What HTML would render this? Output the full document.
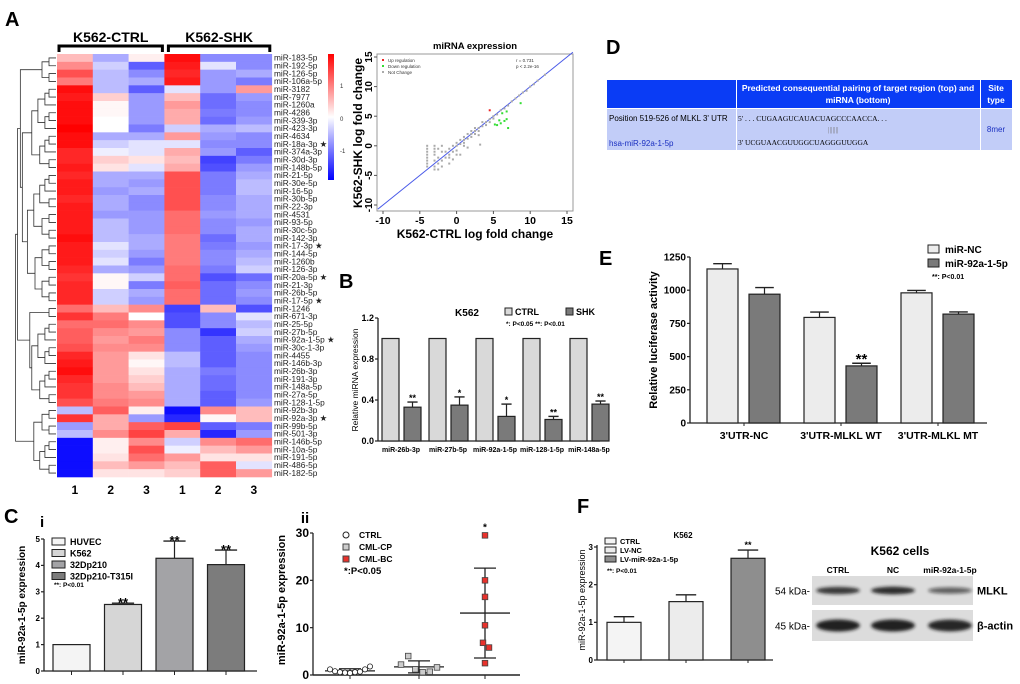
<!DOCTYPE html>
<html><head><meta charset="utf-8"><style>
html,body{margin:0;padding:0;background:#fff}
svg{display:block;font-family:"Liberation Sans",Arial,sans-serif}
</style></head><body>
<svg id="fig" width="1020" height="684" viewBox="0 0 1020 684" xmlns="http://www.w3.org/2000/svg">
<g font-weight="bold" font-size="20" fill="#000">
<text x="5" y="26">A</text>
<text x="339" y="288">B</text>
<text x="4" y="523">C</text>
<text x="606" y="54">D</text>
<text x="599" y="265">E</text>
<text x="577" y="513">F</text>
</g>
<g id="heat"></g>
<g id="scat"></g>
<g id="pb"></g>
<g id="pd">
<rect x="607" y="80" width="129" height="28" fill="#0a3cf5"/>
<rect x="737" y="80" width="243" height="28" fill="#0a3cf5"/>
<rect x="981" y="80" width="31" height="28" fill="#0a3cf5"/>
<rect x="607" y="109" width="129" height="41" fill="#c2cdf8"/>
<rect x="737" y="109" width="243" height="41" fill="#c2cdf8"/>
<rect x="981" y="109" width="31" height="41" fill="#c2cdf8"/>
<text x="858" y="91" font-size="8.5" font-weight="bold" fill="#fff" text-anchor="middle">Predicted consequential pairing of target region (top) and</text>
<text x="858" y="103" font-size="8.5" font-weight="bold" fill="#fff" text-anchor="middle">miRNA (bottom)</text>
<text x="996" y="91" font-size="8.5" font-weight="bold" fill="#fff" text-anchor="middle">Site</text>
<text x="996" y="103" font-size="8.5" font-weight="bold" fill="#fff" text-anchor="middle">type</text>
<text x="609" y="121" font-size="8">Position 519-526 of MLKL 3' UTR</text>
<text x="609" y="146" font-size="8" fill="#1a2fc0">hsa-miR-92a-1-5p</text>
<text x="738" y="121" font-size="7.5" font-family="Liberation Serif">5'   . . . CUGAAGUCAUACUAGCCCAACCA. . .</text>
<text x="828" y="132" font-size="7.5" font-family="Liberation Serif" fill="#777">|||||||</text>
<text x="738" y="145" font-size="7.5" font-family="Liberation Serif">3'        UCGUAACGUUGGCUAGGGUUGGA</text>
<text x="996" y="132" font-size="8" fill="#1a2fc0" text-anchor="middle">8mer</text>
</g>
<g id="pe"></g>
<g id="pci"></g>
<g id="pcii"></g>
<g id="pf"></g>
<g id="blot"></g>
</svg>
<script>
// ---------- Heatmap data ----------
const hmRows=["miR-183-5p","miR-192-5p","miR-126-5p","miR-106a-5p","miR-3182","miR-7977","miR-1260a","miR-4286","miR-339-3p","miR-423-3p","miR-4634","miR-18a-3p","miR-374a-3p","miR-30d-3p","miR-148b-5p","miR-21-5p","miR-30e-5p","miR-16-5p","miR-30b-5p","miR-22-3p","miR-4531","miR-93-5p","miR-30c-5p","miR-142-3p","miR-17-3p","miR-144-5p","miR-1260b","miR-126-3p","miR-20a-5p","miR-21-3p","miR-26b-5p","miR-17-5p","miR-1246","miR-671-3p","miR-25-5p","miR-27b-5p","miR-92a-1-5p","miR-30c-1-3p","miR-4455","miR-146b-3p","miR-26b-3p","miR-191-3p","miR-148a-5p","miR-27a-5p","miR-128-1-5p","miR-92b-3p","miR-92a-3p","miR-99b-5p","miR-501-3p","miR-146b-5p","miR-10a-5p","miR-191-5p","miR-486-5p","miR-182-5p"];
const hmStar=[11,24,28,31,36,46];
const hmValues=[
[0.3,-0.4,0.05,1.5,-0.6,-0.6],[0.6,-0.2,-0.9,1.4,-0.1,-0.6],[1.0,-0.3,-0.6,1.3,-0.5,-0.4],[0.7,-0.3,-0.4,1.4,-0.5,-0.7],
[1.5,-0.3,-0.9,-0.1,-0.5,0.5],[1.4,0.2,-0.5,0.3,-0.8,-0.5],[1.5,0.02,-0.5,0.5,-0.8,-0.6],[1.5,0.02,-0.5,0.4,-0.7,-0.6],
[1.5,0,-0.5,0.4,-0.8,-0.5],[1.6,0,-0.7,-0.2,-0.4,-0.3],[1.5,-0.4,-0.4,0.5,-0.5,-0.6],[1.5,-0.2,-0.1,-0.1,-0.6,-0.6],
[1.3,-0.05,-0.1,0.4,-0.5,-0.9],[1.3,0.2,0.1,0.3,-1.1,-0.7],[1.4,0.1,-0.1,0.4,-1.0,-0.5],[1.3,-0.4,-0.4,1.0,-0.7,-0.4],
[1.4,-0.4,-0.5,1.0,-0.7,-0.3],[1.4,-0.5,-0.4,1.0,-0.7,-0.3],[1.3,-0.4,-0.6,1.0,-0.6,-0.4],[1.4,-0.4,-0.6,1.0,-0.6,-0.4],
[1.4,-0.5,-0.5,0.8,-0.5,-0.4],[1.4,-0.3,-0.5,0.8,-0.6,-0.5],[1.4,-0.3,-0.5,0.8,-0.6,-0.4],[1.5,-0.3,-0.4,0.7,-0.8,-0.4],
[1.4,-0.1,-0.4,0.7,-0.7,-0.5],[1.4,-0.2,-0.5,0.7,-0.6,-0.4],[1.4,-0.1,-0.7,0.7,-0.6,-0.3],[1.3,-0.4,-0.5,0.8,-0.7,-0.2],
[1.2,0.02,-0.2,0.8,-1.0,-0.8],[1.3,0.02,-0.7,0.9,-0.8,-0.6],[1.3,-0.2,-0.4,0.8,-0.8,-0.5],[1.3,-0.2,-0.5,0.8,-0.8,-0.6],
[0.8,0.3,0.6,-1.1,0.3,-1.0],[1.2,0.7,0,-1.0,-0.6,-0.1],[0.8,0.8,0.6,-1.0,-0.6,-0.3],[0.9,0.6,0.5,-0.6,-1.2,-0.2],
[0.9,0.5,0.7,-0.6,-0.9,-0.4],[1.0,0.6,0.6,-0.6,-0.9,-0.5],[1.3,0.5,0.1,-0.3,-0.9,-0.6],[1.4,0.5,0.02,-0.3,-0.9,-0.6],
[1.5,0.5,0.1,-0.4,-0.7,-0.6],[1.3,0.5,0.2,-0.4,-0.8,-0.6],[1.2,0.6,0.3,-0.4,-0.8,-0.6],[1.2,0.6,0.5,-0.4,-0.9,-0.6],
[1.0,0.7,0.6,-0.4,-0.9,-0.5],[-0.3,0.9,0.05,-1.5,0.6,0.3],[1.2,0.4,-0.5,-1.3,0.02,0.3],[-0.5,0.4,0.9,1.1,-0.9,-0.7],
[-0.3,0.6,1.1,0.4,-1.3,-0.5],[-1.5,0.05,0.6,-0.2,0.6,0.8],[-1.5,0.05,1.0,-0.05,0.3,0.5],[-1.5,0.1,0.8,0.5,0.1,0.1],
[-1.5,0.3,0.5,0.3,0.9,-0.1],[-1.5,0.1,0.1,0.2,0.9,0.5]];
// ---------- Scatter data ----------
const scGrayX=[-4,-4,-4,-4,-4,-4,-4,-4,-3,-3,-3,-3,-3,-3,-3,-2.5,-2.5,-2.5,-2.5,-2,-2,-2,-1.5,-1.5,-1,-1,-1,-0.5,-0.5,0,0,0,0.5,0.5,1,1,1,1.5,1.5,2,2,2,2.5,2.5,3,3,3.2,3.5,3.5,4,4,4.5,4.5,5,5,5.5,6,6.5,7,7.5,8,8.5,9,9.5,10,10.5,11,12,-1,0.5,1.5,2.5,3,0,-2,1,-0.5];
const scGrayY=[0,-0.5,-1,-1.5,-2,-2.5,-3,-3.5,0,-0.5,-1.5,-2.5,-3.5,-4,-1,-0.5,-2,-3,-4,-1,-2.5,-3.5,-1,-2,-0.5,-1.5,-3,0,-1,0,0.5,-0.8,0.3,1,1,0.5,1.5,1.2,2,2,1.5,2.5,2.5,3,3,2.5,0.2,3.3,4,4,3.5,4.5,4,5,4.6,5.3,6,6.3,6.8,7.5,8,8.5,9,9.3,10,10.4,11,12,-2,-1.5,-0.3,2,1.8,-1.5,0,0,-2.3];
const scDownX=[5.5,6,6.5,7,6.8,8.7,6.2,6.8,5.8,5.2];
const scDownY=[3.5,3.8,4.2,3,4.5,7.2,5.5,5.8,4.3,3.6];
const scUpX=[4.5];
const scUpY=[6];
const scTicks=[-10,-5,0,5,10,15];
// ---------- Panel B ----------
const bCats=["miR-26b-3p","miR-27b-5p","miR-92a-1-5p","miR-128-1-5p","miR-148a-5p"];
const bCtrl=[1,1,1,1,1];
const bShk=[0.33,0.35,0.24,0.21,0.36];
const bErr=[0.05,0.08,0.12,0.03,0.03];
const bStars=["**","*","*","**","**"];
const bTicks=[0,0.4,0.8,1.2];
// ---------- Panel E ----------
const eCats=["3'UTR-NC","3'UTR-MLKL WT","3'UTR-MLKL MT"];
const eNC=[1160,795,980];
const eNCerr=[40,40,18];
const eMiR=[970,430,820];
const eMiRerr=[50,20,16];
const eStars=["","**",""];
const eTicks=[0,250,500,750,1000,1250];
// ---------- Panel C i ----------
const ciCats=["HUVEC","K562","32Dp210","32Dp210-T315I"];
const ciVals=[1,2.52,4.27,4.03];
const ciErr=[0,0.05,0.65,0.55];
const ciStars=["","**","**","**"];
const ciTicks=[0,1,2,3,4,5];
// ---------- Panel C ii ----------
const ciiCtrl=[1.2,0.8,0.6,0.5,0.4,0.6,0.7,1.2,1.8];
const ciiCP=[2.2,4.0,1.2,0.6,0.7,1.6];
const ciiBC=[29.5,20,16.5,10.5,6.8,5.8,2.5];
const ciiTicks=[0,10,20,30];
// ---------- Panel F ----------
const fCats=["CTRL","LV-NC","LV-miR-92a-1-5p"];
const fVals=[1.0,1.55,2.7];
const fErr=[0.15,0.18,0.22];
const fTicks=[0,1,2,3];
const blotLanes=["CTRL","NC","miR-92a-1-5p"];
const blotMLKL=[0.8,0.9,0.45];
const blotActin=[1,1,0.95];

const NS="http://www.w3.org/2000/svg";
function mk(parent,tag,attrs,txt){const e=document.createElementNS(NS,tag);for(const k in attrs)e.setAttribute(k,attrs[k]);if(txt!==undefined)e.textContent=txt;parent.appendChild(e);return e;}
function lin(d0,d1,r0,r1){return v=>r0+(v-d0)/(d1-d0)*(r1-r0);}
function col(v){let t=Math.max(-1,Math.min(1,v/1.6));const a=Math.pow(Math.abs(t),0.8);
 if(t>=0)return `rgb(255,${Math.round(255*(1-a))},${Math.round(255*(1-a))})`;
 return `rgb(${Math.round(255*(1-a))},${Math.round(255*(1-a))},255)`;}

// ===== Heatmap =====
(function(){
const g=document.getElementById('heat');
const x0=57,cw=35.8,y0=54,rh=(477-54)/hmRows.length;
hmValues.forEach((row,i)=>row.forEach((v,j)=>{
 const r=mk(g,'rect',{x:x0+j*cw,y:y0+i*rh,width:cw+0.3,height:rh+0.3,fill:col(v)});
 
 
}));
hmRows.forEach((n,i)=>{
 const t=mk(g,'text',{x:274,y:y0+i*rh+rh-1.2,'font-size':8.3,fill:'#222'},n+(hmStar.includes(i)?' ★':''));
 
 
});
[1,2,3,1,2,3].forEach((n,j)=>{const t=mk(g,'text',{x:x0+j*cw+cw/2,y:494,'font-size':12,'font-weight':'bold','text-anchor':'middle'},n);
 
 });
const hdr=[["K562-CTRL",x0,x0+3*cw],["K562-SHK",x0+3*cw+2,x0+6*cw]];
hdr.forEach(h=>{const t=mk(g,'text',{x:(h[1]+h[2])/2,y:42,'font-size':14,'font-weight':'bold','text-anchor':'middle'},h[0]);
 
 
 mk(g,'path',{d:`M${h[1]+2} 52V46H${h[2]-2}V52`,stroke:'#000','stroke-width':3,fill:'none'});});
const cy=i=>y0+(i+0.5)*rh;
function tree(lo,hi,splits){
 if(lo===hi)return [56,cy(lo)];
 let m=splits[lo+'-'+hi]!==undefined?splits[lo+'-'+hi]:Math.floor((lo+hi)/2);
 const a=tree(lo,m,splits),b=tree(m+1,hi,splits);
 const size=hi-lo+1;const x=Math.min(56-7*Math.log2(size),Math.min(a[0],b[0])-2);
 mk(g,'path',{d:`M${a[0]} ${a[1]}H${x}V${b[1]}H${b[0]}`,stroke:'#333','stroke-width':0.8,fill:'none'});
 return [x,(a[1]+b[1])/2];}
tree(0,53,{'0-53':44,'0-44':31,'0-31':3,'45-53':48,'32-44':33,'4-31':14});
const defs=mk(g,'defs',{});const lg=mk(defs,'linearGradient',{id:'cb',x1:0,y1:0,x2:0,y2:1});
[[0,'#ff0000'],[0.5,'#ffffff'],[1,'#0000ff']].forEach(s=>mk(lg,'stop',{offset:s[0],'stop-color':s[1]}));
const cbr=mk(g,'rect',{x:328,y:54,width:6,height:126,fill:'url(#cb)'});


})();

// ===== Scatter =====
(function(){
const g=document.getElementById('scat');
const X=lin(-10,15,383,567),Y=lin(-10,15,205,57);
mk(g,'text',{x:475,y:49,'font-size':9.5,'font-weight':'bold','text-anchor':'middle'},'miRNA expression');
mk(g,'rect',{x:377,y:54,width:196,height:157,fill:'#fff',stroke:'#999','stroke-width':1});
scTicks.forEach(t=>{mk(g,'line',{x1:X(t),x2:X(t),y1:211,y2:214,stroke:'#555'});
 const a=mk(g,'text',{x:X(t),y:224,'font-size':10.5,'font-weight':'bold','text-anchor':'middle'},t);
 
 mk(g,'line',{x1:374,x2:377,y1:Y(t),y2:Y(t),stroke:'#555'});
 const b=mk(g,'text',{x:372,y:Y(t),'font-size':10,'font-weight':'bold','text-anchor':'middle',transform:`rotate(-90 372 ${Y(t)})`},t);
 });
mk(g,'line',{x1:X(-10.7),y1:Y(-10.7),x2:X(15.8),y2:Y(15.8),stroke:'#4a5ae8','stroke-width':1});
scGrayX.forEach((x,i)=>mk(g,'rect',{x:X(x)-1,y:Y(scGrayY[i])-1,width:2,height:2,fill:'#aaa'}));
scDownX.forEach((x,i)=>mk(g,'rect',{x:X(x)-1,y:Y(scDownY[i])-1,width:2,height:2,fill:'#33dd33'}));
scUpX.forEach((x,i)=>mk(g,'rect',{x:X(x)-1,y:Y(scUpY[i])-1,width:2,height:2,fill:'#ee2222'}));
[['#ee2222','Up regulation'],['#33dd33','Down regulation'],['#aaa','Not Change']].forEach((l,i)=>{
 mk(g,'rect',{x:382,y:59+i*6,width:2,height:2,fill:l[0]});
 mk(g,'text',{x:388,y:62+i*6,'font-size':4.5,fill:'#333'},l[1]);});
mk(g,'text',{x:516,y:62,'font-size':4.5,fill:'#333'},'r = 0.731');
mk(g,'text',{x:516,y:68,'font-size':4.5,fill:'#333'},'p < 2.2e-16');
const xl=mk(g,'text',{x:475,y:238,'font-size':12,'font-weight':'bold','text-anchor':'middle'},'K562-CTRL log fold change');

const yl=mk(g,'text',{x:362,y:133,'font-size':12,'font-weight':'bold','text-anchor':'middle',transform:'rotate(-90 362 133)'},'K562-SHK log fold change');

[[1,85],[0,118],[-1,150]].forEach(c=>mk(g,'text',{x:340,y:c[1]+3,'font-size':6,fill:'#333'},c[0]));
})();

function axisY(g,x,Y,ticks,fs,fmt,y0,y1){mk(g,'line',{x1:x,x2:x,y1:y0,y2:y1,stroke:'#222','stroke-width':1.3});
 ticks.forEach(t=>{mk(g,'line',{x1:x-3,x2:x,y1:Y(t),y2:Y(t),stroke:'#222','stroke-width':1.2});
 const e=mk(g,'text',{x:x-4,y:Y(t)+fs*0.35,'font-size':fs,'font-weight':'bold','text-anchor':'end'},fmt(t));
 });}
function bar(g,x,w,Y,v,err,fill,name){const r=mk(g,'rect',{x:x,y:Y(v),width:w,height:Y(0)-Y(v),fill:fill,stroke:'#222','stroke-width':1.2});
 
 if(err>0){mk(g,'line',{x1:x+w/2,x2:x+w/2,y1:Y(v),y2:Y(v+err),stroke:'#222','stroke-width':1.2});
 mk(g,'line',{x1:x+w/2-w*0.3,x2:x+w/2+w*0.3,y1:Y(v+err),y2:Y(v+err),stroke:'#222','stroke-width':1.4});}}

// ===== Panel B =====
(function(){
const g=document.getElementById('pb');const Y=lin(0,1.2,441,318);
axisY(g,378,Y,bTicks,9,t=>t.toFixed(1),318,441);
mk(g,'line',{x1:378,x2:600,y1:441,y2:441,stroke:'#222','stroke-width':1.3});
bCats.forEach((c,i)=>{const gx=382+i*47;
 bar(g,gx,17,Y,bCtrl[i],0,'#d9d9d9','bar-ctrl');
 bar(g,gx+22,17,Y,bShk[i],bErr[i],'#7a7a7a','bar-shk');
 mk(g,'text',{x:gx+30.5,y:Y(bShk[i]+bErr[i])-1,'font-size':9,'font-weight':'bold','text-anchor':'middle'},bStars[i]);
 const t=mk(g,'text',{x:gx+19,y:452,'font-size':7,'font-weight':'bold','text-anchor':'middle'},c);
 });
const yl=mk(g,'text',{x:358,y:380,'font-size':8.5,'text-anchor':'middle',transform:'rotate(-90 358 380)'},'Relative miRNA expression');

mk(g,'text',{x:467,y:316,'font-size':10,'font-weight':'bold','text-anchor':'middle'},'K562');
mk(g,'rect',{x:505,y:308,width:7,height:7,fill:'#d9d9d9',stroke:'#222'});
mk(g,'text',{x:515,y:315,'font-size':9,'font-weight':'bold'},'CTRL');
mk(g,'rect',{x:566,y:308,width:7,height:7,fill:'#7a7a7a',stroke:'#222'});
mk(g,'text',{x:576,y:315,'font-size':9,'font-weight':'bold'},'SHK');
mk(g,'text',{x:506,y:326,'font-size':6.5,'font-weight':'bold'},'*: P<0.05 **: P<0.01');
})();

// ===== Panel E =====
(function(){
const g=document.getElementById('pe');const Y=lin(0,1250,423,257);
axisY(g,690,Y,eTicks,10,t=>t,257,423);
mk(g,'line',{x1:690,x2:987,y1:423,y2:423,stroke:'#222','stroke-width':1.3});
eCats.forEach((c,i)=>{const gx=707+i*97;
 bar(g,gx,31,Y,eNC[i],eNCerr[i],'#ececec','bar-mir-nc');
 bar(g,gx+42,31,Y,eMiR[i],eMiRerr[i],'#7a7a7a','bar-mir-92a');
 if(eStars[i])mk(g,'text',{x:gx+57.5,y:Y(eMiR[i]+eMiRerr[i])+1,'font-size':15,'font-weight':'bold','text-anchor':'middle'},eStars[i]);
 mk(g,'line',{x1:gx+37,x2:gx+37,y1:423,y2:426,stroke:'#222'});
 const t=mk(g,'text',{x:gx+37,y:439,'font-size':10.5,'font-weight':'bold','text-anchor':'middle'},c);
 });
const yl=mk(g,'text',{x:657,y:340,'font-size':11,'font-weight':'bold','text-anchor':'middle',transform:'rotate(-90 657 340)'},'Relative luciferase activity');

mk(g,'rect',{x:928,y:245,width:11,height:8,fill:'#ececec',stroke:'#222'});
mk(g,'text',{x:945,y:253,'font-size':10,'font-weight':'bold'},'miR-NC');
mk(g,'rect',{x:928,y:259,width:11,height:8,fill:'#7a7a7a',stroke:'#222'});
mk(g,'text',{x:945,y:267,'font-size':10,'font-weight':'bold'},'miR-92a-1-5p');
mk(g,'text',{x:932,y:279,'font-size':7,'font-weight':'bold'},'**: P<0.01');
})();

// ===== Panel C i =====
(function(){
const g=document.getElementById('pci');const Y=lin(0,5,671,539);
mk(g,'text',{x:40,y:527,'font-size':15,'font-weight':'bold'},'i');
axisY(g,44,Y,ciTicks,8,t=>t,539,671);
mk(g,'line',{x1:44,x2:257,y1:671,y2:671,stroke:'#222','stroke-width':1.3});
const fills=['#f4f4f4','#d6d6d6','#a3a3a6','#7c7c7c'];
ciCats.forEach((c,i)=>{const gx=53+i*51.5;
 bar(g,gx,37,Y,ciVals[i],ciErr[i],fills[i],'bar-'+c.toLowerCase());
 mk(g,'line',{x1:gx+18.5,x2:gx+18.5,y1:671,y2:675,stroke:'#222'});
 if(ciStars[i])mk(g,'text',{x:gx+18.5,y:Y(ciVals[i]+ciErr[i])+4,'font-size':13,'font-weight':'bold','text-anchor':'middle'},ciStars[i]);
 mk(g,'rect',{x:52,y:538+i*11.5,width:13,height:7,fill:fills[i],stroke:'#222'});
 mk(g,'text',{x:70,y:545+i*11.5,'font-size':9,'font-weight':'bold'},c);});
mk(g,'text',{x:54,y:587,'font-size':6.5,'font-weight':'bold'},'**: P<0.01');
const yl=mk(g,'text',{x:25,y:605,'font-size':10,'font-weight':'bold','text-anchor':'middle',transform:'rotate(-90 25 605)'},'miR-92a-1-5p expression');

})();

// ===== Panel C ii =====
(function(){
const g=document.getElementById('pcii');const Y=lin(0,30,675,533);
mk(g,'text',{x:305,y:523,'font-size':15,'font-weight':'bold','text-anchor':'middle'},'ii');
axisY(g,313,Y,ciiTicks,12,t=>t,533,675);
mk(g,'line',{x1:313,x2:520,y1:675,y2:675,stroke:'#222','stroke-width':1.5});
const groups=[[ciiCtrl,350,'circle','#fff'],[ciiCP,419,'sq','#ccc'],[ciiBC,485,'sq','#e8322c']];
groups.forEach(gr=>{const d=gr[0],cx=gr[1];const n=d.length;
 const m=d.reduce((a,b)=>a+b,0)/n;const sd=Math.sqrt(d.reduce((a,b)=>a+(b-m)*(b-m),0)/(n-1));
 mk(g,'line',{x1:cx,x2:cx,y1:675,y2:679,stroke:'#222'});
 mk(g,'line',{x1:cx,x2:cx,y1:Y(m+sd),y2:Y(Math.max(0,m-sd)),stroke:'#222','stroke-width':1.3});
 mk(g,'line',{x1:cx-25,x2:cx+25,y1:Y(m),y2:Y(m),stroke:'#222','stroke-width':1.3});
 mk(g,'line',{x1:cx-11,x2:cx+11,y1:Y(m+sd),y2:Y(m+sd),stroke:'#222','stroke-width':1.3});
 mk(g,'line',{x1:cx-11,x2:cx+11,y1:Y(Math.max(0,m-sd)),y2:Y(Math.max(0,m-sd)),stroke:'#222','stroke-width':1.3});
 d.forEach((v,i)=>{const px=gr[2]==='circle'?cx-20+i*(40/(n-1)):(cx===485?cx+((i===5)?4:(i===4?-2:0)):cx-18+i*(36/(n-1)));
  let p;if(gr[2]==='circle')p=mk(g,'circle',{cx:px,cy:Y(v),r:2.6,fill:gr[3],stroke:'#222','stroke-width':0.8});
  else p=mk(g,'rect',{x:px-2.8,y:Y(v)-2.8,width:5.6,height:5.6,fill:gr[3],stroke:'#444','stroke-width':0.8});
  });});
mk(g,'text',{x:485,y:Y(ciiBC[0])-5,'font-size':10,'font-weight':'bold','text-anchor':'middle'},'*');
mk(g,'circle',{cx:346,cy:535,r:3,fill:'#fff',stroke:'#222'});
mk(g,'rect',{x:343,y:544,width:6,height:6,fill:'#ccc',stroke:'#444'});
mk(g,'rect',{x:343,y:556,width:6,height:6,fill:'#e8322c',stroke:'#444'});
['CTRL','CML-CP','CML-BC'].forEach((t,i)=>mk(g,'text',{x:359,y:538+i*12,'font-size':8.5,'font-weight':'bold'},t));
mk(g,'text',{x:344,y:574,'font-size':9.5,'font-weight':'bold'},'*:P<0.05');
const yl=mk(g,'text',{x:285,y:600,'font-size':11,'font-weight':'bold','text-anchor':'middle',transform:'rotate(-90 285 600)'},'miR-92a-1-5p expression');

})();

// ===== Panel F =====
(function(){
const g=document.getElementById('pf');const Y=lin(0,3,660,547);
axisY(g,597,Y,fTicks,8,t=>t,545,660);
mk(g,'line',{x1:597,x2:773,y1:660,y2:660,stroke:'#222','stroke-width':1.3});
const fills=['#f4f4f4','#ececec','#8e8e8e'];
fCats.forEach((c,i)=>{const gx=607+i*62;
 bar(g,gx,34,Y,fVals[i],fErr[i],fills[i],'bar-'+c.toLowerCase());
 mk(g,'line',{x1:gx+17,x2:gx+17,y1:660,y2:663,stroke:'#222'});
 mk(g,'rect',{x:605,y:538+i*9,width:11,height:6,fill:fills[i],stroke:'#222'});
 mk(g,'text',{x:620,y:544+i*9,'font-size':7.5,'font-weight':'bold'},c);});
mk(g,'text',{x:748,y:Y(fVals[2]+fErr[2])-2,'font-size':9,'font-weight':'bold','text-anchor':'middle'},'**');
mk(g,'text',{x:607,y:573,'font-size':6.5,'font-weight':'bold'},'**: P<0.01');
mk(g,'text',{x:683,y:538,'font-size':8,'font-weight':'bold','text-anchor':'middle'},'K562');
const yl=mk(g,'text',{x:585,y:600,'font-size':9,'text-anchor':'middle',transform:'rotate(-90 585 600)'},'miR-92a-1-5p expression');

})();

// ===== Western blot =====
(function(){
const g=document.getElementById('blot');
mk(g,'text',{x:900,y:555,'font-size':12,'font-weight':'bold','text-anchor':'middle'},'K562 cells');
const lx=[838,893,950];
blotLanes.forEach((l,i)=>mk(g,'text',{x:lx[i],y:573,'font-size':8.5,'font-weight':'bold','text-anchor':'middle'},l));
const defs=mk(g,'defs',{});const f=mk(defs,'filter',{id:'bl',x:'-20%',y:'-50%',width:'140%',height:'200%'});mk(f,'feGaussianBlur',{stdDeviation:1.6});
[[576,605,blotMLKL,4,'54 kDa-','MLKL'],[610,641,blotActin,6,'45 kDa-','β-actin']].forEach(r=>{
 const box=mk(g,'rect',{x:812,y:r[0],width:161,height:r[1]-r[0],fill:'#dcdcdc'});
 
 const cy=(r[0]+r[1])/2;
 r[2].forEach((v,i)=>{const b=mk(g,'ellipse',{cx:lx[i],cy:cy,rx:22,ry:r[3]*(0.6+0.4*v),fill:`rgba(20,20,20,${0.35+0.6*v})`,filter:'url(#bl)'});
  });
 mk(g,'text',{x:810,y:cy+4,'font-size':10,'text-anchor':'end'},r[4]);
 mk(g,'text',{x:977,y:cy+4,'font-size':11,'font-weight':'bold'},r[5]);});
})();
</script>
</body></html>
